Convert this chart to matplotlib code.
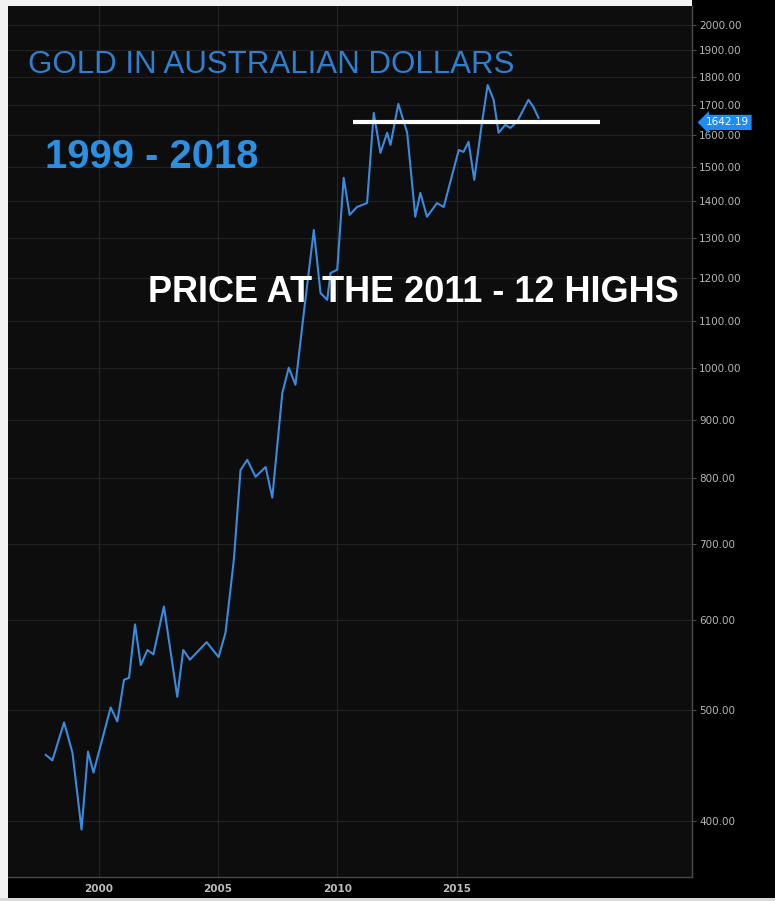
import matplotlib
matplotlib.use("Agg")
import matplotlib.pyplot as plt
from matplotlib.patches import Rectangle
import matplotlib.ticker as mticker

# ---- data (decimal year, price in AUD) ----
years = [1997.78, 1998.06, 1998.55, 1998.90, 1999.28, 1999.55, 1999.78, 2000.50,
         2000.78, 2001.06, 2001.27, 2001.52, 2001.76, 2002.04, 2002.29, 2002.73,
         2003.29, 2003.54, 2003.82, 2004.52, 2005.02, 2005.31, 2005.66, 2005.94,
         2006.22, 2006.57, 2006.99, 2007.27, 2007.69, 2007.96, 2008.24, 2008.59,
         2009.01, 2009.29, 2009.57, 2009.71, 2009.99, 2010.26, 2010.51, 2010.82,
         2011.24, 2011.52, 2011.80, 2012.08, 2012.22, 2012.55, 2012.92, 2013.26,
         2013.47, 2013.75, 2014.17, 2014.45, 2015.08, 2015.28, 2015.49, 2015.73,
         2016.05, 2016.29, 2016.54, 2016.75, 2017.03, 2017.24, 2017.52, 2018.00,
         2018.21, 2018.42]
prices = [457, 452, 488, 459, 393, 460, 441, 503,
          489, 532, 534, 595, 548, 565, 560, 617,
          514, 565, 554, 574, 557, 585, 678, 813,
          830, 802, 818, 769, 950, 1000, 966, 1117,
          1321, 1163, 1147, 1211, 1219, 1468, 1362, 1384,
          1395, 1674, 1544, 1608, 1569, 1705, 1608, 1357,
          1424, 1357, 1395, 1384, 1553, 1547, 1579, 1462,
          1640, 1771, 1719, 1608, 1634, 1624, 1644, 1719,
          1694, 1657]

high_level = 1642.19
high_span = [2010.63, 2021.0]
last_price_label = "1642.19"

y_ticks = [400, 500, 600, 700, 800, 900, 1000, 1100, 1200, 1300, 1400,
           1500, 1600, 1700, 1800, 1900, 2000]
x_ticks = [2000, 2005, 2010, 2015]

title_text = "GOLD IN AUSTRALIAN DOLLARS"
range_text = "1999 - 2018"
note_text = "PRICE AT THE 2011 - 12 HIGHS"

# ---- figure ----
W, H = 775, 901
fig = plt.figure(figsize=(W / 100, H / 100), dpi=100, facecolor="black")

# white margins of the screenshot
fig.patches.append(Rectangle((0, 0), 8 / W, 1, transform=fig.transFigure,
                             facecolor="#f2f2f2", edgecolor="none", zorder=0))
fig.patches.append(Rectangle((0, 1 - 6 / H), 692 / W, 6 / H, transform=fig.transFigure,
                             facecolor="#f2f2f2", edgecolor="none", zorder=0))
fig.patches.append(Rectangle((0, 0), 1, 3 / H, transform=fig.transFigure,
                             facecolor="#d8d8d8", edgecolor="none", zorder=0))

left, right = 8 / W, 692 / W
bottom, top = 1 - 877 / H, 1 - 6 / H
ax = fig.add_axes([left, bottom, right - left, top - bottom])
ax.set_facecolor("#0c0d0c")

ax.set_yscale("log")
ax.set_ylim(357, 2078)
ax.set_xlim(1996.2, 2024.85)

# grid
for yv in y_ticks:
    ax.axhline(yv, color="#202321", lw=0.8, zorder=1)
for xv in x_ticks:
    ax.axvline(xv, color="#232624", lw=0.8, zorder=1)

ax.plot(years, prices, color="#3a8ae0", lw=1.5, zorder=3, solid_joinstyle="round")
ax.hlines(high_level, high_span[0], high_span[1], color="white", lw=3, zorder=4)

# axes styling
for side in ["top", "left"]:
    ax.spines[side].set_visible(False)
for side in ["right", "bottom"]:
    ax.spines[side].set_color("#4a4a4a")
    ax.spines[side].set_linewidth(1.0)

ax.yaxis.tick_right()
ax.yaxis.set_major_locator(mticker.FixedLocator(y_ticks))
ax.yaxis.set_minor_locator(mticker.NullLocator())
ax.yaxis.set_major_formatter(mticker.FuncFormatter(lambda v, p: f"{v:.2f}"))
ax.tick_params(axis="y", colors="#4a4a4a", labelcolor="#b5b5b5", labelsize=7.5,
               length=3, pad=2)
ax.set_xticks(x_ticks)
ax.set_xticklabels([str(x) for x in x_ticks], fontweight="bold")
ax.tick_params(axis="x", colors="#4a4a4a", labelcolor="#bdbdbd", labelsize=7.5,
               length=0, pad=5)

# last-price tag
ax.annotate(last_price_label, xy=(1.0, high_level), xycoords=("axes fraction", "data"),
            xytext=(10, 0), textcoords="offset points", ha="left", va="center",
            fontsize=7.5, color="white",
            bbox=dict(boxstyle="larrow,pad=0.25", facecolor="#1e8cf0",
                      edgecolor="none"), annotation_clip=False, zorder=6)

# texts
fig.text(28 / W, 1 - 65 / H, title_text, color="#2f7fcf", fontsize=22.5,
         family="Liberation Sans", ha="left", va="center")
fig.text(45 / W, 1 - 157 / H, range_text, color="#2b8fe2", fontsize=28.8,
         family="Liberation Sans", fontweight="bold", ha="left", va="center")
fig.text(148 / W, 1 - 293 / H, note_text, color="white", fontsize=26,
         family="Liberation Sans", fontweight="bold", ha="left", va="center",
         zorder=10)

fig.savefig("out.png", dpi=100, facecolor=fig.get_facecolor())
